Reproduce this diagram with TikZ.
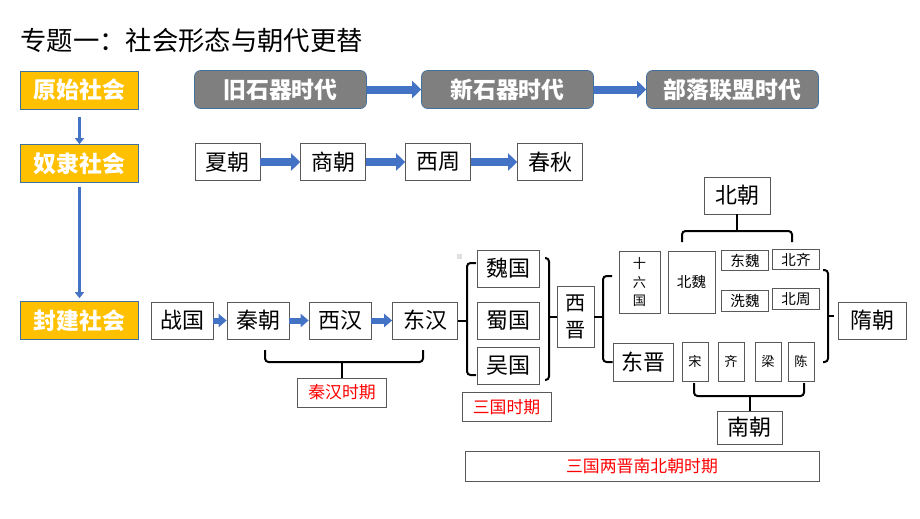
\documentclass[tikz,border=0pt]{standalone}
\usepackage{fontspec}
\setmainfont{Noto Sans CJK SC}
\usetikzlibrary{arrows.meta}
\definecolor{gold}{HTML}{FFC000}
\definecolor{arrowblue}{HTML}{4472C4}
\definecolor{edgeblue}{HTML}{41719C}
\definecolor{stonegray}{HTML}{7F7F7F}
\definecolor{framegray}{HTML}{595959}
\begin{document}
\begin{tikzpicture}[x=0.02cm, y=-0.02cm,
    soc/.style={draw=edgeblue, fill=gold, text=white, inner sep=0pt, minimum width=2.36cm, minimum height=0.76cm, font=\bfseries\fontsize{13}{15}\selectfont},
    era/.style={draw=edgeblue, fill=stonegray, text=white, rounded corners=0.12cm, inner sep=0pt, minimum width=3.44cm, minimum height=0.76cm, font=\bfseries\fontsize{13}{15}\selectfont},
    box/.style={draw=framegray, fill=white, inner sep=0pt, minimum width=1.3cm, minimum height=0.74cm, font=\fontsize{12.5}{15}\selectfont},
    minor/.style={box, minimum width=0.94cm, minimum height=0.41cm, font=\fontsize{8.3}{10}\selectfont},
    period/.style={draw=framegray, text=red, inner sep=0pt, minimum width=1.78cm, minimum height=0.58cm, font=\fontsize{9.6}{11}\selectfont},
    fat/.style={arrowblue, line width=0.16cm, -{Triangle[length=0.18cm, width=0.34cm]}},
    slim/.style={arrowblue, line width=0.12cm, -{Triangle[length=0.16cm, width=0.26cm]}},
    down/.style={arrowblue, line width=0.05cm, -{Triangle[length=0.12cm, width=0.18cm]}},
    brk/.style={draw, line width=0.04cm, rounded corners=2pt}]

    \useasboundingbox (0,0) rectangle (920,518);

    \node[anchor=west, inner sep=0pt, font=\fontsize{15}{18}\selectfont] (title) at (20,41) {专题一：社会形态与朝代更替};

    \node[soc] (yuanshi) at (79.5,90) {原始社会};
    \node[soc] (nuli) at (79.5,163.5) {奴隶社会};
    \node[soc] (fengjian) at (79.5,320.5) {封建社会};

    \node[era] (jiushiqi) at (280.5,89.5) {旧石器时代};
    \node[era] (xinshiqi) at (507.5,89.5) {新石器时代};
    \node[era] (buluo) at (732.5,89.5) {部落联盟时代};

    \node[box] (xia) at (227.5,162) {夏朝};
    \node[box] (shang) at (333,162) {商朝};
    \node[box] (xizhou) at (438,162) {西周};
    \node[box] (chunqiu) at (550,162) {春秋};

    \node[box, minimum width=1.24cm] (zhanguo) at (182,320.5) {战国};
    \node[box, minimum width=1.24cm] (qin) at (258,320.5) {秦朝};
    \node[box, minimum width=1.24cm] (xihan) at (340,320.5) {西汉};
    \node[box] (donghan) at (425,320.5) {东汉};

    \node[box, minimum width=1.24cm] (wei) at (508,268.5) {魏国};
    \node[box, minimum width=1.24cm] (shu) at (508,320.5) {蜀国};
    \node[box, minimum width=1.24cm] (wu) at (508,366) {吴国};
    \node[box, minimum width=0.74cm, minimum height=1.22cm, align=center, font=\fontsize{11.5}{15}\selectfont] (xijin) at (575.5,317) {西\\晋};

    \node[box, minimum width=0.82cm, minimum height=1.24cm, align=center, font=\fontsize{7.5}{10.8}\selectfont] (shiliu) at (639.5,282) {十\\六\\国};
    \node[box, minimum width=0.94cm, minimum height=1.24cm, font=\fontsize{8.3}{10}\selectfont] (beiwei) at (691.5,282) {北魏};
    \node[minor] (dongwei) at (745,260.5) {东魏};
    \node[minor] (beiqi) at (796,259.5) {北齐};
    \node[minor] (xiwei) at (745,301) {洗魏};
    \node[minor] (beizhou) at (796,299) {北周};
    \node[box, minimum width=1.32cm] (beichao) at (737,195.5) {北朝};

    \node[box, minimum width=1.2cm, minimum height=0.76cm] (dongjin) at (643,362) {东晋};
    \node[box, minimum width=0.52cm, minimum height=0.78cm, font=\fontsize{7.5}{9}\selectfont] (song) at (695,361.5) {宋};
    \node[box, minimum width=0.52cm, minimum height=0.78cm, font=\fontsize{7.5}{9}\selectfont] (qi) at (731,361.5) {齐};
    \node[box, minimum width=0.52cm, minimum height=0.78cm, font=\fontsize{7.5}{9}\selectfont] (liang) at (768,361.5) {梁};
    \node[box, minimum width=0.52cm, minimum height=0.78cm, font=\fontsize{7.5}{9}\selectfont] (chen) at (801,361.5) {陈};
    \node[box, minimum width=1.3cm, minimum height=0.66cm] (nanchao) at (749.5,427.5) {南朝};
    \node[box, minimum width=1.36cm] (sui) at (872,320.5) {隋朝};

    \node[period] (qinhan) at (342,392.5) {秦汉时期};
    \node[period] (sanguo) at (506.5,407) {三国时期};
    \node[period, minimum width=7.08cm, minimum height=0.6cm] (sanguoliangjin) at (642,466) {三国两晋南北朝时期};

    \fill[gray!25] (457,254) rectangle (462,259);

    \draw[down, shorten <=0.16cm] (yuanshi) -- (nuli);
    \draw[down, shorten <=0.08cm, shorten >=0.06cm] (nuli) -- (fengjian);

    \draw[fat] (jiushiqi) -- (xinshiqi);
    \draw[fat] (xinshiqi) -- (buluo);

    \draw[fat] (xia) -- (shang);
    \draw[fat] (shang) -- (xizhou);
    \draw[fat] (xizhou) -- (chunqiu);

    \draw[slim] (zhanguo) -- (qin);
    \draw[slim] (qin) -- (xihan);
    \draw[slim] (xihan) -- (donghan);

    \draw[brk] (265,350) -- (265,362) -- (423,362) -- (423,350);
    \draw[brk] (342,362) -- (qinhan.north);

    \draw[brk] (donghan.east) -- ++(9,0);
    \draw[brk] (476,263) -- (467,263) -- (467,375) -- (476,375);
    \draw[brk] (545,258) -- (549,258) -- (549,380) -- (545,380);
    \draw[brk] (xijin.west) -- ++(-8,0);

    \draw[brk] (xijin.east) -- ++(8.5,0);
    \draw[brk] (612,276) -- (603,276) -- (603,362) -- (dongjin.west);

    \draw[brk] (682,242) -- (682,231) -- (792,231) -- (792,242);
    \draw[brk] (737,231) -- (beichao.south);

    \draw[brk] (694,383) -- (694,396) -- (804,396) -- (804,383);
    \draw[brk] (749.5,396) -- (nanchao.north);

    \draw[brk] (823,270) -- (828,270) -- (828,362) -- (823,362);
    \draw[brk] (828,316) -- (834,316);
\end{tikzpicture}
\end{document}
